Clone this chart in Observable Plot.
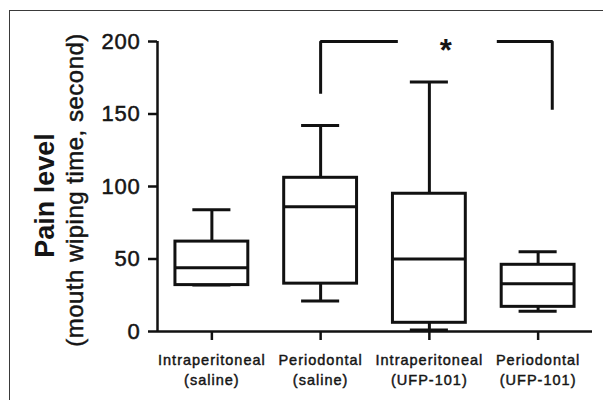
<!DOCTYPE html>
<html>
<head>
<meta charset="utf-8">
<script src="https://cdn.jsdelivr.net/npm/d3@7"></script>
<script src="https://cdn.jsdelivr.net/npm/@observablehq/plot@0.6"></script>
<style>
  html, body { margin: 0; padding: 0; background: white; overflow: hidden; }
  #wrap { position: relative; width: 603px; height: 400px; }
  #border { position: absolute; left: 9px; top: 10px; width: 700px; height: 500px;
            border-left: 1.5px solid #3a3a3a; border-top: 1.5px solid #3a3a3a; pointer-events: none; }
  g[aria-label="x-axis tick label"] text { letter-spacing: 1px; stroke: #151515; stroke-width: 0.45px; }
  g[aria-label="y-axis tick label"] text { letter-spacing: 0.8px; stroke: #151515; stroke-width: 0.5px; }
  g[aria-description="y label sub"] text { letter-spacing: 0.5px; stroke: #151515; stroke-width: 0.5px; }
</style>
</head>
<body>
<div id="wrap"><div id="border"></div></div>
<script>
// Data
const categories = [
  "Intraperitoneal\n(saline)",
  "Periodontal\n(saline)",
  "Intraperitoneal\n(UFP-101)",
  "Periodontal\n(UFP-101)"
];
const whiskerLow  = [32, 21, 1, 14];
const q1          = [32, 33, 6, 17];
const median      = [44, 86, 50, 33];
const q3          = [62, 106, 95, 46];
const whiskerHigh = [84, 142, 172, 55];
const yTicks = [0, 50, 100, 150, 200];

// significance bracket (data units: x = group index, y = seconds)
const bracketLeftX  = [2, 2, 2.71];
const bracketLeftY  = [164, 200, 200];
const bracketRightX = [3.62, 4.13, 4.13];
const bracketRightY = [200, 200, 153];
const starX = 3.15, starY = 200, starText = "*";

const yLabelMain = "Pain level";
const yLabelSub = "(mouth wiping time, second)";

const xPos = categories.map((_, i) => i + 1);
const rows = categories.map((c, i) => ({
  x: i + 1, lo: whiskerLow[i], q1: q1[i], med: median[i], q3: q3[i], hi: whiskerHigh[i]
}));
const BOX = 0.335, CAP = 0.175;
const ink = "#111";
const lw = 3;

const chart = Plot.plot({
  width: 603,
  height: 400,
  marginLeft: 157,
  marginRight: 11,
  marginTop: 41,
  marginBottom: 69,
  style: {fontFamily: "'Liberation Sans', Arial, sans-serif", background: "transparent", color: "#151515"},
  x: {domain: [0.5, 4.5], axis: null, label: null},
  y: {domain: [0, 200], axis: null, label: null},
  marks: [
    Plot.ruleX(rows, {x: "x", y1: "q3", y2: "hi", stroke: ink, strokeWidth: lw}),
    Plot.ruleX(rows, {x: "x", y1: "lo", y2: "q1", stroke: ink, strokeWidth: lw}),
    Plot.ruleY(rows, {y: "hi", x1: d => d.x - CAP, x2: d => d.x + CAP, stroke: ink, strokeWidth: lw}),
    Plot.ruleY(rows, {y: "lo", x1: d => d.x - CAP, x2: d => d.x + CAP, stroke: ink, strokeWidth: lw}),
    Plot.rect(rows, {x1: d => d.x - BOX, x2: d => d.x + BOX, y1: "q1", y2: "q3", fill: "white", stroke: ink, strokeWidth: lw}),
    Plot.ruleY(rows, {y: "med", x1: d => d.x - BOX, x2: d => d.x + BOX, stroke: ink, strokeWidth: lw}),
    Plot.ruleY([0], {stroke: ink, strokeWidth: 2.5}),
    Plot.ruleX([0.5], {stroke: ink, strokeWidth: 2.5}),
    Plot.axisY({ticks: yTicks, tickSize: 9, tickPadding: 8, fontSize: 22, strokeWidth: 2.5, stroke: ink, label: null}),
    Plot.axisX({ticks: xPos, tickFormat: i => categories[i - 1], tickSize: 9, tickPadding: 11,
                fontSize: 14.5, lineHeight: 1.35, strokeWidth: 2.5, stroke: ink, label: null}),
    Plot.line(bracketLeftX.map((x, i) => [x, bracketLeftY[i]]), {stroke: ink, strokeWidth: lw, strokeLinejoin: "miter", strokeLinecap: "butt"}),
    Plot.line(bracketRightX.map((x, i) => [x, bracketRightY[i]]), {stroke: ink, strokeWidth: lw, strokeLinejoin: "miter", strokeLinecap: "butt"}),
    Plot.text([starText], {x: () => starX, y: () => starY, text: d => d, fontSize: 31, fontWeight: "bold",
                           lineAnchor: "bottom", dy: 19, textAnchor: "middle"}),
    Plot.text([yLabelMain], {frameAnchor: "left", text: d => d, rotate: -90, dx: -104, dy: 9,
                             fontSize: 27, fontWeight: "bold", textAnchor: "middle", lineAnchor: "bottom",
                             ariaDescription: "y label main"}),
    Plot.text([yLabelSub], {frameAnchor: "left", text: d => d, rotate: -90, dx: -75, dy: 3.5,
                            fontSize: 24, textAnchor: "middle", lineAnchor: "bottom",
                            ariaDescription: "y label sub"})
  ]
});
chart.style.position = "absolute";
chart.style.left = "0px";
chart.style.top = "0px";
document.getElementById("wrap").appendChild(chart);
</script>
</body>
</html>
